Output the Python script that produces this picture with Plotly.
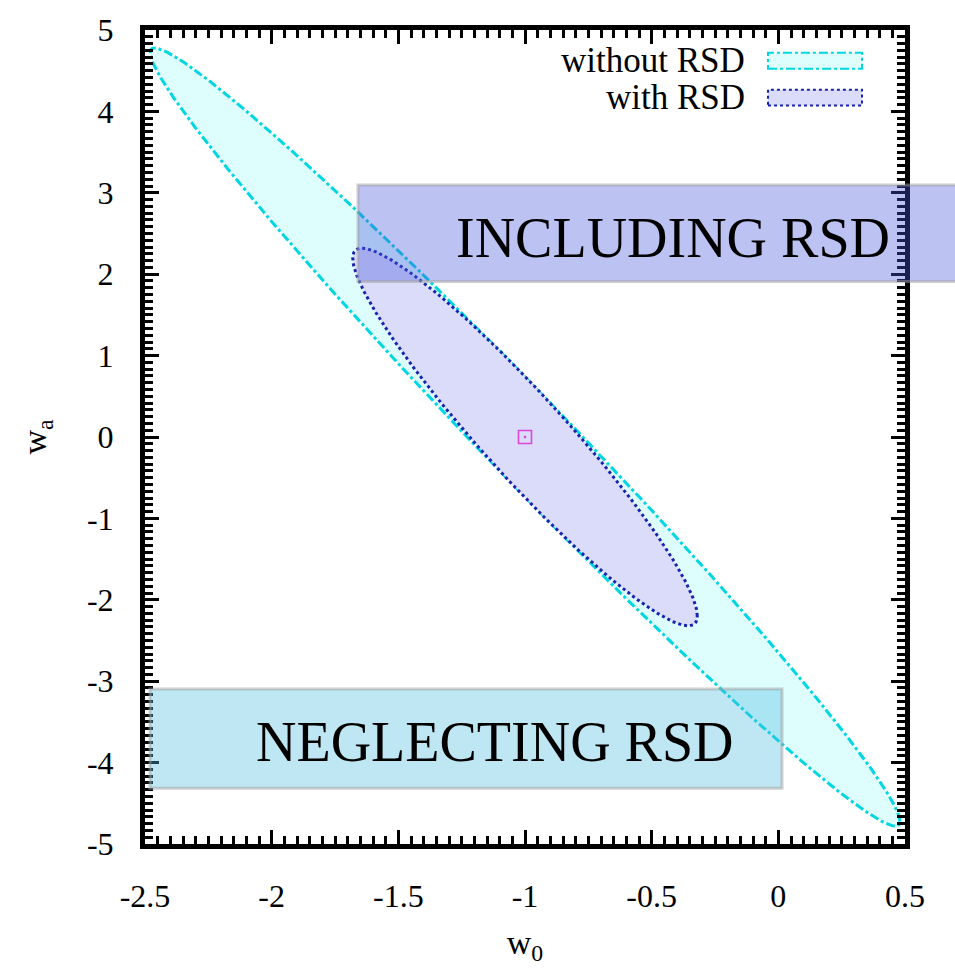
import numpy as np
import plotly.graph_objects as go

# ---------------- data ----------------
fiducial_w0 = [-1.0]
fiducial_wa = [0.0]

series_names = ["without RSD", "with RSD"]
# contour extents
half_extent_w0 = [1.48, 0.68]     # half width of ellipse along w0
half_extent_wa = [4.78, 2.32]     # half height of ellipse along wa
correlation = [-0.988, -0.947]    # w0-wa correlation

x_tickvals = [-2.5, -2.0, -1.5, -1.0, -0.5, 0.0, 0.5]
x_ticktext = ["-2.5", "-2", "-1.5", "-1", "-0.5", "0", "0.5"]
y_tickvals = [5, 4, 3, 2, 1, 0, -1, -2, -3, -4, -5]
y_ticktext = ["5", "4", "3", "2", "1", "0", "-1", "-2", "-3", "-4", "-5"]

box_labels = ["INCLUDING RSD", "NEGLECTING RSD"]

# ---------------- styles ----------------
FONT = "Liberation Serif"
fill_colors = ["rgb(222,253,253)", "rgb(218,220,250)"]
line_colors = ["rgb(0,215,225)", "rgb(25,35,175)"]
line_dash = ["dashdot", "dot"]


def ellipse(cx, cy, ax, ay, rho, n=400):
    t = np.linspace(0, 2 * np.pi, n)
    x = cx + ax * np.cos(t)
    y = cy + ay * (rho * np.cos(t) + np.sqrt(1 - rho ** 2) * np.sin(t))
    return x, y


fig = go.Figure()
for i, name in enumerate(series_names):
    ex, ey = ellipse(fiducial_w0[0], fiducial_wa[0], half_extent_w0[i],
                     half_extent_wa[i], correlation[i])
    fig.add_trace(go.Scatter(
        x=ex, y=ey, mode="lines", fill="toself", name=name,
        fillcolor=fill_colors[i],
        line=dict(color=line_colors[i], width=3, dash=line_dash[i]),
        showlegend=False, hoverinfo="skip"))

fig.add_trace(go.Scatter(
    x=fiducial_w0, y=fiducial_wa, mode="markers", showlegend=False,
    marker=dict(symbol="square-open-dot", size=13, color="rgb(220,70,220)",
                line=dict(width=1.6, color="rgb(220,70,220)"))))

# plot area in pixels
L, R, T, B = 145, 905, 27, 846
W, H = 955, 968


def px(x):
    return (x - L) / (R - L)


def py(y):
    return (B - y) / (B - T)


shapes = []
annotations = []

# text boxes (semi transparent)
box_specs = [
    # x0, x1, y0, y1 (pixels), fill, text centre x, y
    (358, 975, 183, 280, "rgba(71,88,219,0.365)", 673, 236),
    (150, 782, 690, 790, "rgba(77,186,222,0.365)", 495, 743),
]
for (x0, x1, y0, y1, fc, tx, ty), lab in zip(box_specs, box_labels):
    shapes.append(dict(type="rect", xref="paper", yref="paper",
                       x0=px(x0), x1=px(x1), y0=py(y1), y1=py(y0),
                       fillcolor=fc, line=dict(color="rgba(160,160,160,0.5)", width=3),
                       layer="above"))
    annotations.append(dict(text=lab, xref="paper", yref="paper",
                            x=px(tx), y=py(ty), xanchor="center", yanchor="middle",
                            showarrow=False, font=dict(family=FONT, size=56, color="black")))

# legend
leg_rows = [58, 95]
for i, name in enumerate(series_names):
    yc = leg_rows[i]
    annotations.append(dict(text=name, xref="paper", yref="paper",
                            x=px(747), y=py(yc), xanchor="right", yanchor="middle",
                            showarrow=False, font=dict(family=FONT, size=35, color="black")))
    shapes.append(dict(type="rect", xref="paper", yref="paper",
                       x0=px(768), x1=px(862), y0=py(yc + 8), y1=py(yc - 8),
                       fillcolor=fill_colors[i],
                       line=dict(color=line_colors[i], width=2, dash=line_dash[i]),
                       layer="above"))

axis_common = dict(
    showgrid=False, zeroline=False, showline=True, linewidth=5, linecolor="black",
    mirror="ticks", ticks="inside", ticklen=14, tickwidth=3, tickcolor="black",
    tickmode="array", tickfont=dict(family=FONT, size=32, color="black"),
)

fig.update_layout(
    width=W, height=H,
    margin=dict(l=L, r=W - R, t=T, b=H - B),
    plot_bgcolor="white", paper_bgcolor="white",
    xaxis=dict(range=[-2.5, 0.5], tickvals=x_tickvals, ticktext=x_ticktext,
               ticklabelstandoff=20,
               minor=dict(dtick=0.05, tick0=-2.5, ticks="inside", ticklen=8,
                          tickwidth=2.5, tickcolor="black"),
               title=dict(text="w<sub>0</sub>", standoff=18,
                          font=dict(family=FONT, size=34, color="black")),
               **axis_common),
    yaxis=dict(range=[-5, 5], tickvals=y_tickvals, ticktext=y_ticktext,
               ticklabelstandoff=20,
               minor=dict(dtick=1 / 12, tick0=-5, ticks="inside", ticklen=8,
                          tickwidth=2.5, tickcolor="black"),
               title=dict(text="w<sub>a</sub>", standoff=32,
                          font=dict(family=FONT, size=34, color="black")),
               **axis_common),
    shapes=shapes, annotations=annotations,
)

fig.write_html("out.html")
